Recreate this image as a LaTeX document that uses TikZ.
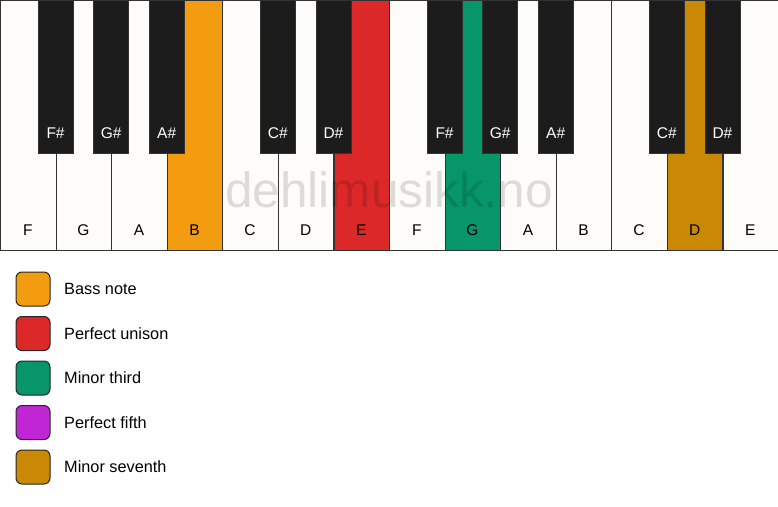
\documentclass[tikz,border=0pt]{standalone}
\usepackage{fontspec}
\setmainfont{Liberation Sans}
\begin{document}
\begin{tikzpicture}[x=1pt,y=-1pt,
  whitekey/.style={draw=black!80,line width=1.2pt,fill=keywhite},
  blackkey/.style={draw=black!80,line width=0.6pt,fill=keyblack},
  wlabel/.style={font=\fontsize{15.5}{15.5}\selectfont,text=black},
  blabel/.style={font=\fontsize{15.5}{15.5}\selectfont,text=white},
  legbox/.style={draw=black!85,line width=1pt,rounded corners=6pt,minimum width=34pt,minimum height=34pt,inner sep=0pt},
  legtext/.style={font=\fontsize{16.3}{17}\selectfont,anchor=west,inner sep=0pt}]
\definecolor{keywhite}{HTML}{FDFCF9}
\definecolor{keyblack}{HTML}{1C1C1C}
\definecolor{cbass}{HTML}{F39C0F}
\definecolor{cunison}{HTML}{DC2828}
\definecolor{cthird}{HTML}{06966A}
\definecolor{cfifth}{HTML}{C026D3}
\definecolor{cseventh}{HTML}{C98904}
\useasboundingbox[fill=white] (0,0) rectangle (778,506);
% white keys
\foreach \i/\n/\c in {0/F/keywhite,1/G/keywhite,2/A/keywhite,3/B/cbass,4/C/keywhite,5/D/keywhite,6/E/cunison,7/F/keywhite,8/G/cthird,9/A/keywhite,10/B/keywhite,11/C/keywhite,12/D/cseventh,13/E/keywhite}{
  \node[whitekey,fill=\c,minimum width=55.57pt,minimum height=250pt,inner sep=0pt,anchor=north west] (w\i) at ({\i*55.57},0) {};
  \node[wlabel] (wl\i) at ({\i*55.57+27.8},230) {\n};
}
% black keys
\foreach \b/\n in {1/F\#,2/G\#,3/A\#,5/C\#,6/D\#,8/F\#,9/G\#,10/A\#,12/C\#,13/D\#}{
  \node[blackkey,minimum width=35pt,minimum height=153pt,inner sep=0pt,anchor=north] (b\b) at ({\b*55.57},0) {};
  \node[blabel] (bl\b) at ({\b*55.57},133) {\n};
}
% watermark
\node[font=\fontsize{49.5}{49.5}\selectfont,text=black,opacity=0.13,anchor=base] (wm) at (389,207) {dehlimusikk.no};
% legend
\foreach \k/\c/\t in {0/cbass/Bass note,1/cunison/Perfect unison,2/cthird/Minor third,3/cfifth/Perfect fifth,4/cseventh/Minor seventh}{
  \node[legbox,fill=\c] (lb\k) at (33,{289+\k*44.5}) {};
  \node[legtext] (lt\k) at (64,{289+\k*44.5}) {\t};
}
\end{tikzpicture}
\end{document}
